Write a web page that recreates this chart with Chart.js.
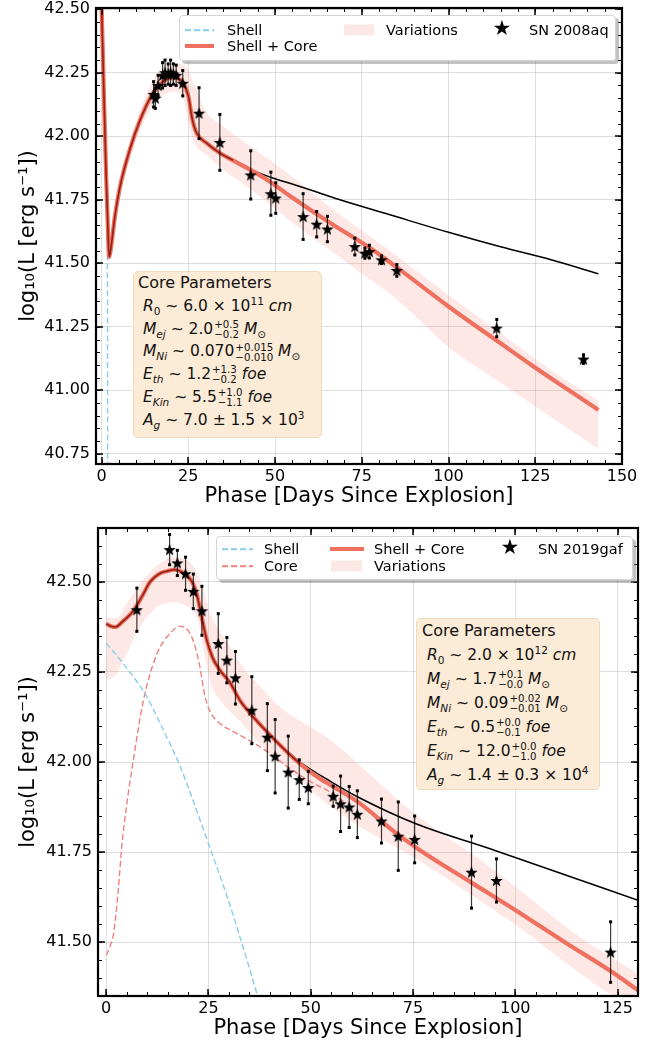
<!DOCTYPE html>
<html>
<head>
<meta charset="utf-8">
<script src="https://cdn.jsdelivr.net/npm/chart.js@4.4.1/dist/chart.umd.min.js"></script>
<style>
body{margin:0;background:#fff;font-family:"DejaVu Sans",sans-serif;}
#page{position:relative;width:658px;height:1046px;overflow:hidden}
.panel{position:absolute;left:0}
.legend{position:absolute;background:rgba(255,255,255,0.93);border:1px solid #d4d4d4;border-radius:4px;box-shadow:3px 3px 0 rgba(120,120,120,0.45);font-size:14.5px;color:#000;box-sizing:border-box}
.legend > *{position:absolute;transform:translateY(-50%);white-space:nowrap}
.dash{height:1.6px}
.solid{height:4px;background:#f0705f}
.patch{height:11px;background:rgba(250,128,114,0.18)}
.star{font-size:21px;line-height:1;transform:translate(-50%,-55%)!important}
.params{position:absolute;background:#fcebd6;border:1px solid #efd9bf;border-radius:5px;font-size:15.5px;color:#111;box-sizing:border-box}
.params div{white-space:nowrap}
.params .hd{font-size:16px}
.params sub,.params sup{font-size:0.68em;line-height:0}
.pm{display:inline-block;vertical-align:-0.42em;font-size:0.66em;line-height:0.98em;margin-left:1px}
.pm span{display:block}
</style>
</head>
<body>
<div id="page">
  <div class="panel" style="top:0"><canvas id="topChart" width="658" height="515"></canvas></div>
  <div class="panel" style="top:515px"><canvas id="botChart" width="658" height="531"></canvas></div>

  <!-- legend, SN 2008aq -->
  <div class="legend" style="left:179px;top:15px;width:437px;height:46px">
    <span class="dash" style="left:5px;top:14px;width:29px;background:repeating-linear-gradient(90deg,#87ceeb 0 6px,transparent 6px 9px)"></span>
    <span style="left:47px;top:14px">Shell</span>
    <span class="solid" style="left:5px;top:30px;width:29px"></span>
    <span style="left:47px;top:30px">Shell + Core</span>
    <span class="patch" style="left:164px;top:14px;width:30px"></span>
    <span style="left:206px;top:14px">Variations</span>
    <span class="star" style="left:322px;top:14px">★</span>
    <span style="left:349px;top:14px">SN 2008aq</span>
  </div>

  <!-- legend, SN 2019gaf -->
  <div class="legend" style="left:216px;top:536px;width:417px;height:44px">
    <span class="dash" style="left:5px;top:12px;width:31px;background:repeating-linear-gradient(90deg,#87ceeb 0 6px,transparent 6px 9px)"></span>
    <span style="left:47px;top:12px">Shell</span>
    <span class="dash" style="left:5px;top:29px;width:31px;background:repeating-linear-gradient(90deg,#f08080 0 6px,transparent 6px 9px)"></span>
    <span style="left:47px;top:29px">Core</span>
    <span class="solid" style="left:113px;top:12px;width:34px"></span>
    <span style="left:157px;top:12px">Shell + Core</span>
    <span class="patch" style="left:114px;top:29px;width:31px"></span>
    <span style="left:157px;top:29px">Variations</span>
    <span class="star" style="left:293px;top:12px">★</span>
    <span style="left:321px;top:12px">SN 2019gaf</span>
  </div>

  <div class="params" style="left:133px;top:271px;width:189px;height:167px;padding:0 0 0 4px;line-height:22.8px">
    <div class="hd">Core Parameters</div>
    <div>&nbsp;<i>R</i><sub>0</sub> ∼ 6.0 × 10<sup>11</sup> <i>cm</i></div>
    <div>&nbsp;<i>M</i><sub><i>ej</i></sub> ∼ 2.0<span class="pm"><span>+0.5</span><span>−0.2</span></span> <i>M</i><sub>⊙</sub></div>
    <div>&nbsp;<i>M</i><sub><i>Ni</i></sub> ∼ 0.070<span class="pm"><span>+0.015</span><span>−0.010</span></span> <i>M</i><sub>⊙</sub></div>
    <div>&nbsp;<i>E</i><sub><i>th</i></sub> ∼ 1.2<span class="pm"><span>+1.3</span><span>−0.2</span></span> <i>foe</i></div>
    <div>&nbsp;<i>E</i><sub><i>Kin</i></sub> ∼ 5.5<span class="pm"><span>+1.0</span><span>−1.1</span></span> <i>foe</i></div>
    <div>&nbsp;<i>A</i><sub><i>g</i></sub> ∼ 7.0 ± 1.5 × 10<sup>3</sup></div>
  </div>

  <div class="params" style="left:416px;top:618px;width:184px;height:172px;padding:0 0 0 5px;line-height:24px">
    <div class="hd">Core Parameters</div>
    <div>&nbsp;<i>R</i><sub>0</sub> ∼ 2.0 × 10<sup>12</sup> <i>cm</i></div>
    <div>&nbsp;<i>M</i><sub><i>ej</i></sub> ∼ 1.7<span class="pm"><span>+0.1</span><span>−0.0</span></span> <i>M</i><sub>⊙</sub></div>
    <div>&nbsp;<i>M</i><sub><i>Ni</i></sub> ∼ 0.09<span class="pm"><span>+0.02</span><span>−0.01</span></span> <i>M</i><sub>⊙</sub></div>
    <div>&nbsp;<i>E</i><sub><i>th</i></sub> ∼ 0.5<span class="pm"><span>+0.0</span><span>−0.1</span></span> <i>foe</i></div>
    <div>&nbsp;<i>E</i><sub><i>Kin</i></sub> ∼ 12.0<span class="pm"><span>+0.0</span><span>−1.0</span></span> <i>foe</i></div>
    <div>&nbsp;<i>A</i><sub><i>g</i></sub> ∼ 1.4 ± 0.3 × 10<sup>4</sup></div>
  </div>
</div>

<script>
// ---------- SN 2008aq (upper panel) ----------
const topShellX = [0, 0.5, 1.2, 1.6, 1.7, 1.75];
const topShellY = [43.2, 42.28, 41.88, 41.6, 41.4, 40.6];

const topMainX = [0, 0.47, 1.24, 1.8, 2.2, 2.6, 3.8, 5.3, 8.2, 11, 14.4, 17.8, 20.6, 23.5, 25, 26.2, 27.4, 30.3, 34.1, 37.9, 43.2, 47.6, 54.3, 65.8, 77.4, 85, 100, 115, 124.5, 143.2];
const topMainY = [42.52, 42.275, 41.88, 41.65, 41.525, 41.55, 41.68, 41.80, 41.95, 42.06, 42.16, 42.216, 42.233, 42.21, 42.16, 42.065, 42.013, 41.973, 41.934, 41.905, 41.866, 41.83, 41.765, 41.66, 41.56, 41.485, 41.33, 41.185, 41.094, 40.923];

const topTailX = [30, 35, 40, 43.2, 50, 54.3, 63, 68.7, 83.1, 100, 115, 129.3, 143.2];
const topTailY = [41.973, 41.928, 41.89, 41.868, 41.833, 41.815, 41.776, 41.75, 41.691, 41.622, 41.565, 41.515, 41.459];

const topBandX  = [0, 0.47, 1.24, 1.8, 2.2, 2.6, 3.8, 5.3, 8.2, 11, 14.4, 17.8, 20.6, 23.5, 25, 26.2, 27.4, 30, 35, 45, 55, 65, 75, 85, 100, 115, 130, 143.2];
const topBandHi = [42.56, 42.30, 41.92, 41.69, 41.56, 41.58, 41.71, 41.83, 41.98, 42.10, 42.21, 42.27, 42.29, 42.28, 42.26, 42.22, 42.18, 42.10, 42.04, 41.94, 41.84, 41.73, 41.63, 41.53, 41.375, 41.225, 41.075, 40.96];
const topBandLo = [42.47, 42.25, 41.84, 41.61, 41.50, 41.53, 41.65, 41.76, 41.91, 42.02, 42.11, 42.16, 42.175, 42.15, 42.06, 41.99, 41.96, 41.93, 41.87, 41.77, 41.66, 41.56, 41.46, 41.36, 41.17, 41.03, 40.89, 40.77];

const topObsX   = [15.0, 15.5, 16.3, 17.6, 18.3, 19.2, 19.9, 20.7, 21.5, 23.4, 28.1, 34.1, 43.0, 48.8, 50.2, 58.1, 62.0, 65.1, 73.0, 75.9, 77.2, 80.7, 85.1, 113.9, 138.9];
const topObsY   = [42.165, 42.15, 42.2, 42.24, 42.25, 42.245, 42.25, 42.245, 42.24, 42.209, 42.091, 41.976, 41.848, 41.774, 41.757, 41.684, 41.654, 41.635, 41.566, 41.54, 41.546, 41.514, 41.472, 41.245, 41.123];
const topObsErr = [0.05, 0.04, 0.04, 0.05, 0.05, 0.04, 0.05, 0.04, 0.04, 0.05, 0.10, 0.11, 0.095, 0.085, 0.06, 0.09, 0.05, 0.05, 0.033, 0.02, 0.025, 0.015, 0.023, 0.034, 0.017];

// ---------- SN 2019gaf (lower panel) ----------
const botShellX = [0, 3, 6, 9.5, 14, 18, 21.5, 25, 29, 32.7, 36.6, 37.5];
const botShellY = [42.33, 42.29, 42.246, 42.19, 42.088, 41.99, 41.885, 41.773, 41.645, 41.514, 41.366, 41.33];

const botCoreX = [0, 1, 1.8, 3, 3.8, 5, 6.5, 9.1, 12.4, 15.6, 18.1, 20.5, 22, 22.9, 24.2, 25.4, 28, 31, 35, 39.2, 44, 50, 55, 58];
const botCoreY = [41.463, 41.49, 41.523, 41.65, 41.764, 41.88, 41.995, 42.171, 42.30, 42.357, 42.377, 42.357, 42.31, 42.264, 42.18, 42.14, 42.105, 42.085, 42.06, 42.03, 41.99, 41.945, 41.915, 41.89];

const botMainX = [0, 1, 2.2, 4, 6.7, 9, 10.7, 13, 14.8, 16.8, 18.5, 19.7, 21, 22.1, 23.4, 24.6, 26, 27.8, 30.3, 32.7, 35.6, 39.2, 44, 47.4, 52.2, 55, 62, 70, 76.7, 89.3, 101.2, 112, 123.2, 130];
const botMainY = [42.384, 42.378, 42.375, 42.39, 42.421, 42.465, 42.50, 42.523, 42.53, 42.534, 42.528, 42.519, 42.50, 42.468, 42.40, 42.338, 42.29, 42.255, 42.22, 42.171, 42.13, 42.085, 42.03, 41.995, 41.954, 41.935, 41.885, 41.81, 41.755, 41.665, 41.58, 41.50, 41.42, 41.366];

const botTailX = [40, 47.4, 55, 62, 75.4, 95.4, 110, 130];
const botTailY = [42.074, 42.0, 41.945, 41.9, 41.83, 41.753, 41.695, 41.616];

const botBandX  = [0, 2.6, 5, 8.3, 12.4, 16.4, 20, 22.5, 24, 25.5, 28, 30.3, 33, 38.4, 42.5, 55, 65, 75, 90, 101, 115, 130];
const botBandHi = [42.40, 42.40, 42.44, 42.495, 42.545, 42.569, 42.56, 42.52, 42.47, 42.41, 42.36, 42.32, 42.27, 42.20, 42.153, 42.06, 41.96, 41.86, 41.74, 41.645, 41.52, 41.412];
const botBandLo = [42.225, 42.246, 42.30, 42.375, 42.431, 42.444, 42.43, 42.39, 42.30, 42.22, 42.17, 42.14, 42.11, 42.04, 42.0, 41.875, 41.80, 41.736, 41.625, 41.54, 41.42, 41.30];

const botObsX   = [7.5, 15.5, 17.4, 19.4, 21.3, 23.4, 27.4, 29.5, 31.6, 35.6, 39.4, 41.3, 44.5, 47.2, 49.4, 55.5, 57.3, 59.4, 61.4, 67.3, 71.4, 75.4, 89.3, 95.4, 123.3];
const botObsY   = [42.423, 42.59, 42.553, 42.523, 42.474, 42.42, 42.329, 42.283, 42.234, 42.144, 42.069, 42.016, 41.972, 41.951, 41.929, 41.905, 41.884, 41.875, 41.855, 41.836, 41.794, 41.785, 41.694, 41.671, 41.472];
const botObsErr = [0.06, 0.042, 0.035, 0.046, 0.048, 0.068, 0.083, 0.063, 0.073, 0.093, 0.093, 0.102, 0.10, 0.055, 0.045, 0.028, 0.077, 0.057, 0.065, 0.061, 0.095, 0.065, 0.10, 0.06, 0.084];

Chart.defaults.font.family = 'DejaVu Sans';
Chart.defaults.color = '#000';

function pts(xs, ys) { return xs.map((x, i) => ({x: x, y: ys[i]})); }

// filled five-point star used as the marker
const starImg = (function () {
    const size = 13;
    const c = document.createElement('canvas');
    c.width = c.height = size;
    const g = c.getContext('2d');
    const r = size / 2, ri = r * 0.42;
    g.beginPath();
    for (let i = 0; i < 10; i++) {
        const rad = i % 2 ? ri : r;
        const a = -Math.PI / 2 + i * Math.PI / 5;
        const px = r + rad * Math.cos(a), py = r + 0.6 + rad * Math.sin(a);
        if (i === 0) g.moveTo(px, py); else g.lineTo(px, py);
    }
    g.closePath();
    g.fillStyle = '#000';
    g.fill();
    return c;
})();

// vertical error bars, drawn just below the markers
const errorBars = {
    id: 'errorBars',
    beforeDatasetDraw(chart, args) {
        const ds = chart.data.datasets[args.index];
        if (!ds.yErr) return;
        const {ctx, chartArea: a, scales: {x, y}} = chart;
        ctx.save();
        ctx.beginPath();
        ctx.rect(a.left, a.top, a.width, a.height);
        ctx.clip();
        ctx.strokeStyle = 'rgba(0,0,0,0.78)';
        ctx.fillStyle = '#000';
        ctx.lineWidth = 1.2;
        ds.data.forEach((p, i) => {
            const px = x.getPixelForValue(p.x);
            const y1 = y.getPixelForValue(p.y + ds.yErr[i]);
            const y2 = y.getPixelForValue(p.y - ds.yErr[i]);
            ctx.beginPath();
            ctx.moveTo(px, y1);
            ctx.lineTo(px, y2);
            ctx.stroke();
            ctx.fillRect(px - 1.5, y1 - 1.5, 3, 3);
            ctx.fillRect(px - 1.5, y2 - 1.5, 3, 3);
        });
        ctx.restore();
    }
};

// black frame with inward major/minor ticks on all four sides
const frameTicks = {
    id: 'frameTicks',
    afterDraw(chart, args, opts) {
        const {ctx, chartArea: a, scales: {x, y}} = chart;
        ctx.save();
        ctx.strokeStyle = '#000';
        const seg = (x1, y1, x2, y2) => { ctx.beginPath(); ctx.moveTo(x1, y1); ctx.lineTo(x2, y2); ctx.stroke(); };
        const minorVals = (s, step) => {
            const out = [];
            for (let k = Math.ceil(s.min / step - 1e-9); k * step <= s.max + 1e-9; k++) out.push(k * step);
            return out;
        };
        ctx.lineWidth = 1;
        minorVals(x, opts.xMinor).forEach(v => {
            const p = Math.round(x.getPixelForValue(v)) + 0.5;
            seg(p, a.bottom, p, a.bottom - 4); seg(p, a.top, p, a.top + 4);
        });
        minorVals(y, opts.yMinor).forEach(v => {
            const p = Math.round(y.getPixelForValue(v)) + 0.5;
            seg(a.left, p, a.left + 4, p); seg(a.right, p, a.right - 4, p);
        });
        ctx.lineWidth = 1.5;
        x.ticks.forEach(t => {
            const p = Math.round(x.getPixelForValue(t.value));
            seg(p, a.bottom, p, a.bottom - 7); seg(p, a.top, p, a.top + 7);
        });
        y.ticks.forEach(t => {
            const p = Math.round(y.getPixelForValue(t.value));
            seg(a.left, p, a.left + 7, p); seg(a.right, p, a.right - 7, p);
        });
        ctx.lineWidth = 2.2;
        ctx.strokeRect(a.left, a.top, a.width, a.height);
        ctx.restore();
    }
};

function lineDs(label, data, color, width, extra) {
    return Object.assign({
        label: label, data: data, borderColor: color, borderWidth: width,
        pointRadius: 0, fill: false, cubicInterpolationMode: 'monotone'
    }, extra || {});
}

function buildChart(id, cfg) {
    const mainPts = pts(cfg.mainX, cfg.mainY);
    const datasets = [
        lineDs('Variations', pts(cfg.bandX, cfg.bandHi), 'rgba(0,0,0,0)', 0,
            {fill: '+1', backgroundColor: 'rgba(250,128,114,0.18)', order: 9}),
        lineDs('Variations low', pts(cfg.bandX, cfg.bandLo), 'rgba(0,0,0,0)', 0, {order: 9}),
        lineDs('Shell', pts(cfg.shellX, cfg.shellY), '#87ceeb', 1.4, {borderDash: [6, 3], order: 6}),
        lineDs('Tail', pts(cfg.tailX, cfg.tailY), '#000', 1.5, {order: 5}),
        lineDs('Shell + Core', mainPts, '#f0705f', 4.2, {order: 3}),
        lineDs('Shell + Core early', mainPts.filter(p => p.x <= cfg.darkUntil), 'rgba(135,25,12,0.9)', 1.6, {order: 2}),
        {
            label: cfg.name, type: 'scatter', data: pts(cfg.obsX, cfg.obsY), yErr: cfg.obsErr,
            pointStyle: starImg, pointRadius: 6, order: 0
        }
    ];
    if (cfg.coreX) {
        datasets.push(lineDs('Core', pts(cfg.coreX, cfg.coreY), '#f08080', 1.4, {borderDash: [6, 3], order: 6}));
    }
    return new Chart(document.getElementById(id), {
        type: 'line',
        data: {datasets: datasets},
        plugins: [errorBars, frameTicks],
        options: {
            responsive: false,
            animation: false,
            events: [],
            layout: {padding: cfg.padding},
            plugins: {
                legend: {display: false},
                tooltip: {enabled: false},
                frameTicks: {xMinor: 5, yMinor: 0.05}
            },
            scales: {
                x: {
                    type: 'linear', min: cfg.xMin, max: cfg.xMax,
                    afterFit(s) { s.height = cfg.xAxisH; s.paddingLeft = 0; s.paddingRight = 0; },
                    ticks: {stepSize: 25, includeBounds: false, padding: cfg.xTickPad, maxRotation: 0,
                        font: {size: 16}, color: '#000', callback: v => String(v)},
                    grid: {color: 'rgba(0,0,0,0.13)', drawTicks: false},
                    border: {display: false},
                    title: {display: true, text: 'Phase [Days Since Explosion]', color: '#000',
                        font: {size: 21}, padding: {top: 0, bottom: cfg.xTitlePad}}
                },
                y: {
                    type: 'linear', min: cfg.yMin, max: cfg.yMax,
                    afterFit(s) { s.width = cfg.yAxisW; s.paddingTop = 0; s.paddingBottom = 0; },
                    ticks: {stepSize: 0.25, includeBounds: false, padding: 6,
                        font: {size: 16}, color: '#000', callback: v => v.toFixed(2)},
                    grid: {color: 'rgba(0,0,0,0.13)', drawTicks: false},
                    border: {display: false},
                    title: {display: true, text: 'log₁₀(L [erg s⁻¹])', color: '#000',
                        font: {size: 21}, padding: {top: 16, bottom: 0}}
                }
            }
        }
    });
}

buildChart('topChart', {
    name: 'SN 2008aq',
    shellX: topShellX, shellY: topShellY,
    mainX: topMainX, mainY: topMainY, darkUntil: 38,
    tailX: topTailX, tailY: topTailY,
    bandX: topBandX, bandHi: topBandHi, bandLo: topBandLo,
    obsX: topObsX, obsY: topObsY, obsErr: topObsErr,
    xMin: -1.6, xMax: 150, yMin: 40.71, yMax: 42.505,
    padding: {left: 0, top: 8, right: 36, bottom: 0},
    yAxisW: 96, xAxisH: 51, xTickPad: 3, xTitlePad: 6
});

buildChart('botChart', {
    name: 'SN 2019gaf',
    shellX: botShellX, shellY: botShellY,
    coreX: botCoreX, coreY: botCoreY,
    mainX: botMainX, mainY: botMainY, darkUntil: 52,
    tailX: botTailX, tailY: botTailY,
    bandX: botBandX, bandHi: botBandHi, bandLo: botBandLo,
    obsX: botObsX, obsY: botObsY, obsErr: botObsErr,
    xMin: -2, xMax: 130, yMin: 41.35, yMax: 42.65,
    padding: {left: 0, top: 13, right: 20, bottom: 0},
    yAxisW: 98, xAxisH: 50, xTickPad: 3, xTitlePad: 5
});
</script>
</body>
</html>
